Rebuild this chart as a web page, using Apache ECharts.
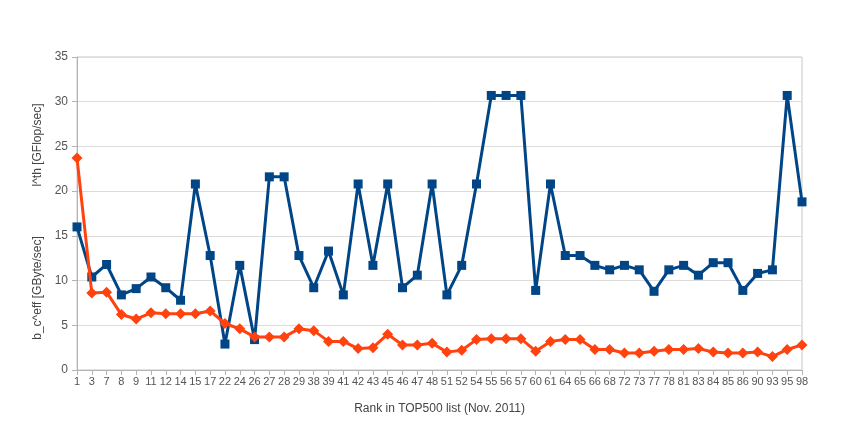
<!DOCTYPE html>
<html>
<head>
<meta charset="utf-8">
<script src="https://cdn.jsdelivr.net/npm/echarts@6/dist/echarts.min.js"></script>
<style>html,body{margin:0;padding:0;background:#fff}#c{width:850px;height:433px}</style>
</head>
<body>
<div id="c"></div>
<script>
const ranks = ['1','3','7','8','9','11','12','14','15','17','22','24','26','27','28','29','38','39','41','42','43','45','46','47','48','51','52','54','55','56','57','60','61','64','65','66','68','72','73','77','78','81','83','84','85','86','90','93','95','98'];
const pth = [16.0,10.4,11.8,8.4,9.1,10.4,9.2,7.8,20.8,12.8,2.9,11.7,3.4,21.6,21.6,12.8,9.2,13.3,8.4,20.8,11.7,20.8,9.2,10.6,20.8,8.4,11.7,20.8,30.7,30.7,30.7,8.9,20.8,12.8,12.8,11.7,11.2,11.7,11.2,8.8,11.2,11.7,10.6,12.0,12.0,8.9,10.8,11.2,30.7,18.8];
const bceff = [23.7,8.6,8.7,6.2,5.7,6.4,6.3,6.3,6.3,6.6,5.2,4.6,3.7,3.7,3.7,4.6,4.4,3.2,3.2,2.4,2.5,4.0,2.8,2.8,3.0,2.0,2.2,3.4,3.5,3.5,3.5,2.1,3.2,3.4,3.4,2.3,2.3,1.9,1.9,2.1,2.3,2.3,2.4,2.0,1.9,1.9,2.0,1.5,2.3,2.8];
const yTicks = {min:0, max:35, interval:5};
const xTitle = 'Rank in TOP500 list (Nov. 2011)';
const yTitleLow = 'b_c^eff [GByte/sec]';
const yTitleHigh = 'l^th [GFlop/sec]';

const chart = echarts.init(document.getElementById('c'), null, {renderer:'canvas'});
const font = 'Liberation Sans';
chart.setOption({
  animation:false,
  backgroundColor:'#ffffff',
  grid:{left:77,right:48,top:57,bottom:63,show:true,borderColor:'#c8c8c8',borderWidth:1,backgroundColor:'transparent'},
  xAxis:{
    type:'category', data:ranks, boundaryGap:false,
    name:xTitle, nameLocation:'middle', nameGap:33,
    nameTextStyle:{color:'#444',fontFamily:font,fontSize:12},
    axisLine:{lineStyle:{color:'#b3b3b3'}},
    axisTick:{show:true,length:5,interval:0,lineStyle:{color:'#b3b3b3'}},
    axisLabel:{interval:0,color:'#555',fontFamily:font,fontSize:11,margin:6},
    splitLine:{show:false}
  },
  yAxis:{
    type:'value', min:yTicks.min, max:yTicks.max, interval:yTicks.interval,
    axisLine:{show:true,lineStyle:{color:'#b3b3b3'}},
    axisTick:{show:true,length:5,lineStyle:{color:'#b3b3b3'}},
    axisLabel:{color:'#555',fontFamily:font,fontSize:12,margin:9},
    splitLine:{show:true,lineStyle:{color:'#dcdcdc'}}
  },
  graphic:[
    {type:'text',x:38,y:288,rotation:Math.PI/2,style:{text:yTitleLow,fill:'#444',font:'12px "Liberation Sans"',align:'center',verticalAlign:'middle'}},
    {type:'text',x:38,y:145,rotation:Math.PI/2,style:{text:yTitleHigh,fill:'#444',font:'12px "Liberation Sans"',align:'center',verticalAlign:'middle'}}
  ],
  series:[
    {type:'line',data:pth,symbol:'rect',symbolSize:9,lineStyle:{color:'#004586',width:3},itemStyle:{color:'#004586'},z:3},
    {type:'line',data:bceff,symbol:'diamond',symbolSize:11,lineStyle:{color:'#ff420e',width:3},itemStyle:{color:'#ff420e'},z:4}
  ]
});
</script>
</body>
</html>
